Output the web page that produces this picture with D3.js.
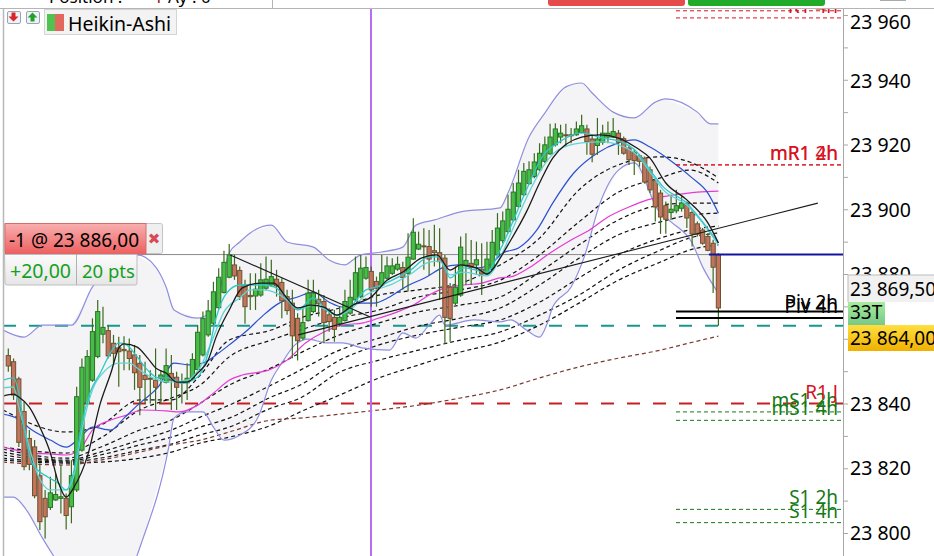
<!DOCTYPE html>
<html lang="en">
<head>
<meta charset="UTF-8">
<title>Heikin-Ashi</title>
<script src="https://d3js.org/d3.v7.min.js"></script>
<style>
  html, body { margin: 0; padding: 0; background: #fff; overflow: hidden; }
  svg { display: block; }
  text { font-family: "Noto Sans", "DejaVu Sans", sans-serif; }
</style>
</head>
<body>
<script>
// heikin-ashi bars
const opens = [23854.8,23852.9,23847.6,23837.5,23829.2,23826.6,23817.7,23810.7,23807.9,23810.2,23810.7,23810.7,23808.1,23813.3,23825.6,23840,23847.2,23854.5,23861.4,23862.5,23858.6,23857.2,23856.7,23856.2,23855,23852.4,23848.7,23847.8,23847.2,23847.8,23846.5,23849.3,23848.1,23846.7,23846.4,23847.8,23850.5,23855,23861.2,23864.8,23869.6,23874.3,23879,
  23882.8,23881.1,23876.6,23873.4,23873.2,23873.5,23875.6,23876.6,23878.4,23877.4,23873,23871,23866.3,23860.2,23865.6,23868.4,23872.2,23871.5,23867.4,23866.6,23864.6,23865.6,23867.9,23872,23873,23878.7,23880.8,23877.7,23876.6,23878.7,23880.2,23881.5,23882,23880.2,23884.6,23887.7,23888.7,23888.5,23887.2,23886.6,23884.9,23875.9,23871,23873.5,23882.6,23883.3,23882.8,23881.5,23880,23881.8,
  23885.9,23890.3,23893.1,23896.7,23900.9,23904.5,23907.9,23910.1,23912.2,23914.8,23917.1,23919.9,23922.3,23923,23923,23923,23923.7,23924.8,23921.7,23919.7,23920.7,23922.3,23922.3,23923.5,23921.8,23918.9,23917.5,23916.5,23915.8,23912.2,23908.9,23905,23901.1,23899,23899.5,23900.3,23901.7,23899,23895.5,23893.6,23891.6,23889.5,23885.9];
const closes = [23851.6,23842.6,23828,23820.5,23821.2,23811.5,23803.5,23805,23812.4,23811.9,23811.2,23805.4,23817.7,23842.1,23851.2,23854.5,23862.2,23868.4,23863.5,23854.7,23855.5,23856,23856.3,23853.9,23849.5,23845,23847.4,23847.6,23845,23848.8,23851.7,23847.2,23845,23846.4,23847.8,23853.6,23862,23866.3,23868.6,23874.5,23879,23883.6,23885.9,
  23879.4,23873,23869.9,23873,23875.3,23878.2,23878.4,23879.2,23876.3,23871.7,23868.7,23860.9,23859.4,23865,23874.1,23874.1,23870.8,23865,23865.3,23862.9,23866.6,23871.5,23872.8,23880.4,23881.8,23882,23875.1,23875.6,23880.4,23882.5,23882.5,23883,23878.9,23885.2,23892.9,23889.2,23888.4,23884.6,23886.6,23883.8,23866.6,23866.3,23875.9,23888.3,23884.2,23882.1,23884.4,23880,23884.6,23889.8,
  23894.2,23896.4,23900,23905.3,23908.1,23911.7,23912.2,23914.6,23917.3,23919.9,23922.3,23924.8,23923.5,23922.8,23922.8,23924.8,23925.8,23920.9,23917,23921.7,23923.5,23923.5,23924,23920.7,23917.3,23915.3,23915,23914.8,23908.4,23906,23900.7,23897.6,23896.9,23900,23901.1,23901.9,23897.3,23892.4,23892.3,23889.5,23887.3,23882.1,23869.5];
const highs = [23857,23853.9,23848.3,23840.6,23831.8,23828.7,23821.5,23813.3,23817.4,23818.4,23821,23812.2,23822.5,23845.2,23853.9,23856.5,23866.3,23872,23869.9,23864.2,23861.2,23860.6,23860.8,23860.1,23858.1,23855,23852.9,23850.3,23857,23850.3,23857,23855,23849.8,23849.3,23852.4,23855.5,23864.2,23868.4,23872,23877.6,23881.8,23887.2,23889.3,
  23885.9,23882.3,23878.2,23880.2,23880.2,23883.3,23885.4,23884.4,23881.3,23878.7,23875.1,23875.1,23867.9,23869.9,23878.2,23878.2,23875.1,23873.5,23869.4,23868.9,23869.9,23875.1,23878.2,23885.4,23885.9,23885.4,23882.3,23879.2,23885.9,23885.4,23884.9,23885.4,23883.8,23892.6,23897.2,23893.1,23894.1,23893.6,23895.2,23894.1,23885.9,23877.2,23882.3,23891.6,23892.6,23890.5,23890,23889.5,23890,23893.6,
  23898.8,23899.3,23904.5,23908.1,23912.2,23914.3,23914.8,23917.3,23920.4,23922.5,23926.4,23926.6,23926.1,23926.4,23925.1,23927.1,23929.2,23926.1,23923,23928.2,23926.1,23927.1,23928.2,23924.5,23922.5,23919.9,23918.4,23917.1,23916.3,23913.2,23909.6,23906,23902.4,23904.5,23906,23904,23902.4,23899.8,23896.2,23894.2,23892.6,23890.6,23886.4];
const lows = [23849.8,23841.1,23826.6,23819.4,23819.4,23810.7,23800.9,23798.3,23807.1,23810,23806,23801.1,23803,23812.7,23825.1,23839.5,23846.7,23854,23858.6,23853.9,23852.4,23845.2,23850.3,23850.3,23844.2,23836.4,23840,23840,23838,23840,23846.2,23838,23838,23840,23841.1,23847.2,23850.3,23854.5,23860.6,23864.2,23869.1,23874,23878.7,
  23878.2,23872,23864.6,23868.9,23868.9,23873,23875,23876.1,23873,23866.3,23867.4,23854,23853.3,23859.6,23865.3,23867.9,23866.9,23858.6,23862.2,23859.1,23863.8,23865.3,23867.4,23871.5,23872.5,23878.2,23869.9,23869.9,23876.1,23878.2,23879.7,23881,23875.1,23874.6,23884.4,23887.4,23881.3,23879.7,23882.3,23872,23858.4,23859.1,23870.4,23873,23876.6,23876.6,23879.7,23873.5,23879.7,23881.3,
  23885.4,23889.5,23892.6,23896.2,23900.4,23904,23907.6,23909.6,23911.7,23914.3,23916.8,23919.4,23920.4,23919.4,23920.4,23922.7,23923.5,23916.8,23914.5,23916.8,23919.9,23920.4,23922,23916.8,23916.8,23913.7,23910.6,23913.2,23907.9,23905,23896.2,23892.4,23892.4,23896.7,23898.8,23899.3,23894.2,23888.5,23891.6,23889,23887,23874.1,23864];

// bollinger band, [bar, price]
const bandUpper = [[-1,23862.7],[3,23860.5],[6.5,23864.2],[12,23864.2],[16,23876],[20.5,23883.7],[24.5,23885.9],[28,23882.2],[30,23876],[31.5,23868.9],[36,23866.4],[39,23868.9],[42,23886.5],[44,23889.9],[46,23892.7],[50,23895.1],[53,23889.9],[58,23888.3],[61,23884.3],[64,23882.8],[65.5,23884.3],[67,23885.9],[71,23886.8],[75,23888.3],[77.5,23895.1],[81,23896.7],[86,23899.2],[93.5,23900.4],[95,23905],[99,23922.3],[102,23929.7],[106,23937.8],[109,23939],[111,23935.9],[115,23930],[119,23928.2],[123,23933.1],[125,23934.1],[131,23930],[133.5,23926.4],[135,23926.4]];
const bandLower = [[-1,23811.1],[1,23811.1],[3.5,23807],[6.5,23798.4],[12,23785.4],[17.5,23779],[22,23784],[25.5,23797.8],[30.5,23826.5],[31.5,23835.5],[34,23837.4],[37,23837.4],[39,23832.7],[41,23828.7],[44,23830.2],[47.5,23835.8],[50,23847.2],[52,23852.5],[54.5,23858.1],[57,23859.9],[60.5,23858.7],[63.5,23858.7],[67.5,23857.1],[72.5,23856.5],[75,23861.8],[77.5,23860.2],[80,23864.2],[82,23867.3],[83,23864.2],[88.5,23865.8],[93.5,23865.2],[95.5,23865.8],[98.5,23862.7],[101,23860.5],[102.5,23864.9],[103.5,23869.8],[107,23876],[109.5,23885.3],[112.5,23901.9],[116,23912.1],[119,23914.3],[123.5,23899.8],[126,23896.1],[130,23889.6],[132,23882.2],[135,23874.1]];

// solid moving averages, [bar, price]
const maBlack = [[-1,23842.3],[1,23842.9],[2,23842],[4,23838.9],[6,23832.7],[8,23824.7],[9.5,23815.7],[11,23811.1],[12.5,23814.2],[15,23823.5],[17.5,23840.1],[19.5,23849.4],[21,23857.1],[22,23858.4],[24.5,23857.4],[26.5,23854],[28,23851],[30,23849.4],[32,23846.6],[34,23846.6],[36,23849.4],[38,23853.4],[39.5,23860.5],[42,23868.9],[44.5,23875.7],[48,23877.2],[50.5,23877.2],[52.5,23873.5],[55,23869.5],[57.5,23870.4],[60,23869.8],[62.5,23867.3],[65.5,23870.4],[69,23872.9],[72,23878.1],[75,23880.6],[78.5,23884.9],[81.5,23885.9],[84,23881.2],[86,23882.8],[89,23881.9],[91,23880],[93.5,23884.9],[95,23889],[98.5,23899.2],[101,23908.1],[103.5,23915.8],[109,23922.3],[112.5,23923],[116,23922],[119.5,23918.9],[122,23915.8],[125,23908.1],[129,23902.9],[133,23895.8],[135,23889.6]];
const maCyanFast = [[-1,23847.2],[1,23847.9],[2,23843.2],[3,23832.7],[4.5,23821.6],[7.5,23817.3],[9.5,23815.4],[11,23813.3],[12.5,23819.4],[14,23834],[15.5,23843.2],[17.5,23849.4],[19.5,23855.9],[21,23858.7],[22.5,23858.1],[24.5,23854.4],[26.5,23850.3],[28.5,23847.9],[30.5,23847.9],[33,23846.3],[36,23848.2],[38,23855.6],[39.5,23866.4],[41.5,23874.1],[44,23876.6],[48.5,23876.6],[50.5,23876],[53,23872.6],[55,23868.9],[58,23872.6],[60.5,23868.9],[62.5,23867.3],[65,23869.8],[68,23875.1],[70,23876],[73,23878.1],[76.5,23881.2],[80,23885.3],[82,23885.3],[84,23878.8],[86.5,23881.9],[91,23880.6],[93.5,23887.4],[95,23892.7],[98.5,23906],[101.5,23916.2],[104.5,23920.5],[109,23923.6],[113,23922],[116.5,23920.8],[119.5,23917.7],[122,23912.1],[124.5,23906.9],[129,23901.9],[132,23896.1],[135,23889.6]];
const maCyanSlow = [[-1,23844.8],[1,23845.1],[2,23838.9],[4,23826.5],[5.5,23818.5],[8,23813.3],[11,23813.3],[12.5,23817.9],[14,23831.8],[16,23844.2],[18.5,23850.3],[21,23852.5],[23,23852.5],[25,23850.3],[27.5,23847.9],[30.5,23846.6],[34,23847.2],[36.5,23851.3],[39,23860.5],[41,23868.3],[44,23872.6],[46,23875.1],[48.5,23875.1],[50.5,23874.4],[53,23872],[55,23868.9],[58,23870.4],[60.5,23868.9],[62.5,23867.3],[65,23868.9],[68,23873.5],[70,23875.1],[73,23876.9],[76.5,23880],[80,23883.7],[82,23884],[84,23879.7],[86.5,23880.6],[91,23879.4],[93.5,23884.9],[95,23890.5],[98.5,23903.5],[101.5,23912.8],[104.5,23918.3],[109,23920.5],[113,23920.8],[116.5,23919.6],[119.5,23916.8],[122,23911.5],[124.5,23906],[129,23901.3],[132,23895.8],[135,23889]];
const maBlue = [[-1,23836.7],[1.5,23835.5],[4.5,23831.8],[8,23828.7],[11,23826.5],[13.5,23829.3],[16,23832.7],[19.5,23831.8],[22,23835.5],[25,23840.1],[28.5,23845.1],[31.5,23852.5],[34.5,23851.9],[37,23852.5],[40,23855.6],[42,23858.1],[45.5,23862.7],[48.5,23867.3],[51.5,23871],[55,23872.9],[58,23874.4],[61,23871.3],[63.5,23869.8],[67,23871],[69.5,23871],[72.5,23872.9],[75.5,23876],[79.5,23879.1],[82.5,23881.9],[85.5,23882.8],[89,23881.9],[91.5,23882.8],[94,23886.5],[97,23888],[100.5,23893.6],[103.5,23901.9],[107.5,23911.2],[112,23917.4],[116,23920.5],[119,23921.4],[122,23919.2],[126.5,23914.3],[130,23909.7],[133,23905],[135,23898.8]];
const maMagenta = [[-1,23826.5],[1.5,23825.6],[4.5,23824.7],[8,23824.4],[11,23824.1],[13.5,23825.6],[16,23831.8],[19.5,23834.9],[22.5,23836.4],[25.5,23838],[30,23837.7],[32.5,23837.4],[36,23839.5],[39,23843.2],[42,23847.2],[44.5,23848.8],[49.5,23850.3],[53,23853.4],[56.5,23858.7],[60,23862.1],[63.5,23864.2],[67.5,23864.9],[70.5,23866.4],[74,23868.3],[77,23870.4],[80,23873.5],[82.5,23875.4],[86.5,23876.6],[90,23877.2],[93.5,23878.8],[95.5,23879.1],[99,23881.9],[103,23886.5],[107,23890.5],[110.5,23893.6],[114,23897.6],[118,23900.7],[121.5,23902.9],[126.5,23904.4],[131,23905.3],[135,23905.6]];

// dashed averages, sampled at the same bars
const dashBars = [-1,11,17.5,25,31,36.5,42,50,55.5,63,70.5,78,86,93.5,101,108.5,116,124,129.5,135];
const dashA = [23838,23831.2,23833.3,23841.1,23841.1,23848.8,23859.6,23862.7,23866.4,23869.5,23873.5,23875.1,23877.2,23882.8,23891.1,23906,23913.7,23916.2,23914.6,23909.7];
const dashB = [23826.5,23824.7,23829.3,23838,23841.7,23845.7,23854.4,23859.6,23862.7,23866.4,23868.9,23872.9,23875.1,23878.1,23885.9,23896.1,23905.3,23909.7,23912.1,23908.1];
const dashC = [23825.9,23823.1,23826.5,23831.8,23834.9,23840.1,23845.7,23851,23855.6,23861.2,23864.9,23868.3,23870.4,23872.9,23880.6,23889,23896.7,23901.3,23901.9,23901.9];
const dashD = [23825,23822.5,23825,23828.7,23831.8,23835.8,23839.5,23845.7,23850.3,23856.5,23860.2,23863.9,23866.4,23869.5,23876.6,23884.9,23892.1,23896.1,23898.2,23898.8];
const dashE = [23824.1,23822.2,23824.1,23827.2,23829.6,23832.7,23835.5,23842,23845.7,23853.4,23858.1,23861.2,23863.6,23865.8,23871.3,23878.8,23885.9,23891.1,23893.6,23894.8];
const dashF = [23823.1,23821.9,23823.1,23825.6,23827.5,23830.3,23832.7,23838.6,23841.7,23849.7,23853.4,23856.5,23859.6,23862.1,23867.3,23873.5,23881.2,23887.4,23891.1,23892.7];
const dashG = [23822.5,23821.6,23821.9,23823.1,23825,23827.8,23829.6,23833.3,23837.4,23842.6,23847.9,23851.9,23855.9,23859,23864.2,23871,23878.1,23883.7,23887.4,23889];
const dashBrown = [23821.9,23821,23822.5,23825,23827.2,23828.7,23831.2,23834.9,23835.5,23836.7,23838,23839.5,23841.7,23844.2,23847.9,23851.3,23854,23856.5,23858.7,23860.8];

// drawn trend lines
const trendDown = [[42.2,23885.9],[68.8,23866.7]];
const trendUp = [[55.1,23861.2],[153.9,23901.9]];

// pivot levels
const levelNames = ["R1 2h","R1 4h","mR1 2h","mR1 4h","Piv 2h","Piv 4h","mS1 2h","mS1 4h","S1 2h","S1 4h"];
const levelPrices = [23961.3,23959.1,23913.7,23913.7,23868.4,23866.4,23837.4,23834.8,23807.3,23803.2];
const levelColors = ["#d8131f","#d8131f","#d8131f","#d8131f","#000","#000","#157a15","#157a15","#157a15","#157a15"];

const entryPrice = 23886, lastPrice = 23869.5, lowPrice = 23864;
const dayPivotPrice = 23840, tealPrice = 23864;
const axisTicks = d3.range(23800, 23961, 10);

const W = 934, H = 556;
const plot = {left: 3, right: 843, top: 9};

const x = d3.scaleLinear().domain([0, 135]).range([8.3, 718.4]);
const y = d3.scaleLinear().domain([23800, 23960]).range([533, 15]);
const barW = 4.2;
const fmtPrice = v => Math.floor(v / 1000) + " " + d3.format("03")(Math.round(v % 1000));

const svg = d3.select("body").append("svg").attr("width", W).attr("height", H);
const defs = svg.append("defs");
defs.append("clipPath").attr("id", "plotClip").append("rect")
  .attr("x", plot.left).attr("y", plot.top).attr("width", plot.right - plot.left).attr("height", H - plot.top);

function vGrad(id, top, bottom) {
  const g = defs.append("linearGradient").attr("id", id).attr("x1", 0).attr("x2", 0).attr("y1", 0).attr("y2", 1);
  g.append("stop").attr("offset", "0%").attr("stop-color", top);
  g.append("stop").attr("offset", "100%").attr("stop-color", bottom);
}
vGrad("gRed", "#f8b0b0", "#ee5f5f");
vGrad("gGray", "#fbfbfb", "#e6e6e6");
vGrad("gGreen", "#a8ec9e", "#78c888");
vGrad("gGold", "#ffdf40", "#f0b000");

const chart = svg.append("g").attr("clip-path", "url(#plotClip)");
const line = d3.line().x(d => x(d[0])).y(d => y(d[1]));
const smooth = d3.line().x(d => x(d[0])).y(d => y(d[1])).curve(d3.curveMonotoneX);

// band fill
chart.append("path").attr("d", line(bandUpper.concat(bandLower.slice().reverse())) + "Z").attr("fill", "#f4f4f6");

// level lines behind the bars
chart.append("line").attr("x1", plot.left).attr("x2", x(134)).attr("y1", y(entryPrice)).attr("y2", y(entryPrice))
  .attr("stroke", "#8a8a8a").attr("stroke-width", 1);
[[tealPrice, "#17988f"], [dayPivotPrice, "#c81e22"]].forEach(d => {
  chart.append("line").attr("x1", plot.left).attr("x2", plot.right).attr("y1", y(d[0])).attr("y2", y(d[0]))
    .attr("stroke", d[1]).attr("stroke-width", 2).attr("stroke-dasharray", "13,13");
});

// dashed averages
[dashA, dashB, dashC, dashD, dashE, dashF, dashG].forEach(s => {
  chart.append("path").attr("d", smooth(s.map((v, i) => [dashBars[i], v])))
    .attr("fill", "none").attr("stroke", "#111").attr("stroke-width", 1.2).attr("stroke-dasharray", "4,3");
});
chart.append("path").attr("d", smooth(dashBrown.map((v, i) => [dashBars[i], v])))
  .attr("fill", "none").attr("stroke", "#7a3a32").attr("stroke-width", 1.2).attr("stroke-dasharray", "4,3");

// purple marker
chart.append("line").attr("x1", 371).attr("x2", 371).attr("y1", plot.top).attr("y2", H)
  .attr("stroke", "#b66ef2").attr("stroke-width", 2);

// bands outline and averages
[[bandUpper, "#8f8fdf"], [bandLower, "#8f8fdf"], [maMagenta, "#e63ad6"], [maBlue, "#2a4fd0"]].forEach(d => {
  chart.append("path").attr("d", smooth(d[0])).attr("fill", "none").attr("stroke", d[1]).attr("stroke-width", 1.2);
});

// bars
const bars = chart.append("g").selectAll("g").data(opens.map((o, i) => ({i, o, c: closes[i], h: highs[i], l: lows[i]}))).enter().append("g");
bars.append("line").attr("x1", d => x(d.i)).attr("x2", d => x(d.i)).attr("y1", d => y(d.h)).attr("y2", d => y(d.l))
  .attr("stroke", "#3a6a1e").attr("stroke-width", 1.2);
bars.append("rect")
  .attr("x", d => x(d.i) - barW / 2).attr("width", barW)
  .attr("y", d => y(Math.max(d.o, d.c)))
  .attr("height", d => Math.max(1, Math.abs(y(d.o) - y(d.c))))
  .attr("fill", d => d.c >= d.o ? "#46bd46" : "#c4745c")
  .attr("stroke", d => d.c >= d.o ? "#2a7426" : "#6a5430")
  .attr("stroke-width", 1);

[[maCyanSlow, "#62d4d4"], [maCyanFast, "#2fc8c8"], [maBlack, "#1a1a1a"]].forEach(d => {
  chart.append("path").attr("d", smooth(d[0])).attr("fill", "none").attr("stroke", d[1]).attr("stroke-width", 1.3);
});

[trendDown, trendUp].forEach(t => {
  chart.append("path").attr("d", line(t)).attr("fill", "none").attr("stroke", "#1a1a1a").attr("stroke-width", 1.1);
});

// blue entry line
chart.append("line").attr("x1", x(133.2)).attr("x2", plot.right).attr("y1", y(entryPrice)).attr("y2", y(entryPrice))
  .attr("stroke", "#1414a0").attr("stroke-width", 2);

// pivot levels with their names
levelNames.forEach((name, i) => {
  const isPiv = name.startsWith("Piv");
  const ly = y(levelPrices[i]);
  chart.append("line").attr("x1", 676).attr("x2", plot.right).attr("y1", ly).attr("y2", ly)
    .attr("stroke", levelColors[i]).attr("stroke-width", isPiv ? 2 : 1).attr("stroke-dasharray", isPiv ? null : "4,3");
  chart.append("text").attr("x", 838).attr("y", ly - (isPiv ? (i === 4 ? 3 : 5) : 5)).attr("text-anchor", "end")
    .attr("font-size", 19).attr("fill", levelColors[i]).text(name);
});
chart.append("text").attr("x", 838).attr("y", y(dayPivotPrice) - 5).attr("text-anchor", "end")
  .attr("font-size", 19).attr("fill", "#d8131f").text("R1 J");

// price axis
const axis = d3.axisRight(y).tickValues(axisTicks).tickSize(5).tickPadding(2)
  .tickFormat(v => v % 20 === 0 ? fmtPrice(v) : "");
const axisG = svg.append("g").attr("transform", `translate(${plot.right},0)`).call(axis);
axisG.select(".domain").attr("stroke", "#a8a8a8").attr("d", `M0.5,${plot.top}V${H}`);
axisG.selectAll(".tick line").attr("stroke", "#a8a8a8");
axisG.selectAll(".tick text").attr("font-size", 19.5).attr("font-family", '"Noto Sans", sans-serif').attr("fill", "#000")
  .attr("dy", d => d === 23960 ? "0.7em" : d === 23800 || d === 23820 || d === 23880 ? "0.32em" : "0.38em");

// price tags on the axis
function tag(tx, ty, w, h, fill, label) {
  svg.append("rect").attr("x", tx).attr("y", ty).attr("width", w).attr("height", h).attr("fill", fill).attr("stroke", "none");
  svg.append("text").attr("x", tx + 2).attr("y", ty + h - 6).attr("font-size", 19).attr("fill", "#000").text(label);
}
tag(848, 275, 86, 27, "#f1f1f1", fmtPrice(Math.floor(lastPrice)) + ",50");
svg.append("line").attr("x1", 848).attr("x2", 934).attr("y1", 275).attr("y2", 275).attr("stroke", "#bbb");
svg.append("line").attr("x1", 848).attr("x2", 848).attr("y1", 275).attr("y2", 302).attr("stroke", "#bbb");
tag(848, 302, 37, 23, "url(#gGreen)", "33T");
tag(848, 325, 86, 26, "url(#gGold)", fmtPrice(lowPrice) + ",00");

// frame and header strip
svg.append("line").attr("x1", 0).attr("x2", W).attr("y1", 8.5).attr("y2", 8.5).attr("stroke", "#b5b5b5");
svg.append("line").attr("x1", 3.5).attr("x2", 3.5).attr("y1", 8).attr("y2", H).attr("stroke", "#b8b8b8").attr("stroke-width", 1.5);
svg.append("line").attr("x1", 272.5).attr("x2", 272.5).attr("y1", 0).attr("y2", 8).attr("stroke", "#b5b5b5");
svg.append("text").attr("x", 49).attr("y", 3).attr("font-size", 17).attr("fill", "#000").text("Position :");
svg.append("text").attr("x", 148).attr("y", 3).attr("font-size", 17).attr("fill", "#8a1414").text("-1");
svg.append("text").attr("x", 168).attr("y", 3).attr("font-size", 17).attr("fill", "#000").text("Ay : 0");
svg.append("path").attr("d", "M548,0H685V3a3,3 0 0 1 -3,3H551a3,3 0 0 1 -3,-3Z").attr("fill", "#e64b4b");
svg.append("path").attr("d", "M688,0H825V3a3,3 0 0 1 -3,3H691a3,3 0 0 1 -3,-3Z").attr("fill", "#22ab2a");
svg.append("rect").attr("x", 880).attr("y", 0).attr("width", 26).attr("height", 1).attr("fill", "#aaa");

// small order buttons
[[7, "#d8242a", "M13.5,21.5l-5,-5h3v-4h4v4h3z"], [26, "#22a02a", "M32.5,12.5l5,5h-3v4h-4v-4h-3z"]].forEach(b => {
  svg.append("rect").attr("x", b[0] + 0.5).attr("y", 11.5).attr("width", 13).attr("height", 12).attr("rx", 1.5)
    .attr("fill", "#eef2f6").attr("stroke", "#9aa4b0");
  svg.append("path").attr("d", b[2]).attr("fill", b[1]);
});

// legend
svg.append("rect").attr("x", 44.5).attr("y", 9.5).attr("width", 132).attr("height", 25).attr("fill", "#f3f3f3").attr("stroke", "#d4d4d4");
svg.append("rect").attr("x", 47).attr("y", 14).attr("width", 8).attr("height", 17).attr("fill", "#4fc24f");
svg.append("rect").attr("x", 55).attr("y", 14).attr("width", 9).attr("height", 17).attr("fill", "#e2685e");
svg.append("text").attr("x", 68).attr("y", 31).attr("font-size", 19.5).attr("fill", "#000").text("Heikin-Ashi");

// position box
svg.append("rect").attr("x", 4.5).attr("y", 223.5).attr("width", 158).attr("height", 30).attr("rx", 2).attr("fill", "#eef0f0").attr("stroke", "#c4c4c4");
svg.append("rect").attr("x", 5).attr("y", 223.5).attr("width", 141).attr("height", 30.5).attr("fill", "url(#gRed)").attr("stroke", "#d86c6c");
svg.append("text").attr("x", 9).attr("y", 247).attr("font-size", 19).attr("fill", "#000").text("-1 @ " + fmtPrice(entryPrice) + ",00");
svg.append("text").attr("x", 154).attr("y", 244).attr("text-anchor", "middle").attr("font-size", 15).attr("font-weight", "bold").attr("fill", "#d84a55").text("✖");
svg.append("path").attr("d", "M4.5,254.5H137V283a2,2 0 0 1 -2,2H7a2,2 0 0 1 -2,-2Z").attr("fill", "url(#gGray)").attr("stroke", "#bdbdbd");
svg.append("line").attr("x1", 76.5).attr("x2", 76.5).attr("y1", 254).attr("y2", 285).attr("stroke", "#b0b0b0");
svg.append("text").attr("x", 10).attr("y", 278).attr("font-size", 19.5).attr("fill", "#14a01e").text("+20,00");
svg.append("text").attr("x", 82).attr("y", 278).attr("font-size", 18.5).attr("fill", "#14a01e").text("20 pts");
</script>
</body>
</html>
